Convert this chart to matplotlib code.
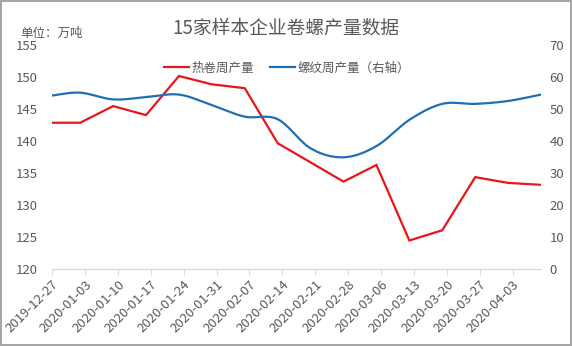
import numpy as np
import pandas as pd
import matplotlib
matplotlib.use("Agg")
import matplotlib.pyplot as plt
import matplotlib.dates as mdates
from matplotlib.lines import Line2D

plt.rcParams['font.family'] = ['Noto Sans CJK SC', 'DejaVu Sans']

# weekly data (first point is a Friday, the rest are Thursdays)
dates = pd.to_datetime(['2019-12-27', '2020-01-02', '2020-01-09', '2020-01-16',
                        '2020-01-23', '2020-01-30', '2020-02-06', '2020-02-13',
                        '2020-02-20', '2020-02-27', '2020-03-05', '2020-03-12',
                        '2020-03-19', '2020-03-26', '2020-04-02', '2020-04-09'])
hot_coil = [142.9, 142.9, 145.5, 144.1, 150.2, 148.9, 148.3, 139.7,
            136.7, 133.7, 136.3, 124.5, 126.1, 134.4, 133.5, 133.2]
rebar = [54.3, 55.2, 53.1, 53.8, 54.6, 51.3, 47.7, 46.9,
         37.8, 35.0, 38.5, 46.7, 51.7, 51.7, 52.6, 54.6]
tick_dates = pd.date_range('2019-12-27', '2020-04-03', freq='7D')

title = '15家样本企业卷螺产量数据'
unit_text = '单位：万吨'
label_hot = '热卷周产量'
label_rebar = '螺纹周产量（右轴）'

red = '#E8161C'
blue = '#1E6FB4'
grey_text = '#595959'


def smooth(x, y, n=30):
    # cubic bezier through the points, Catmull-Rom style control points
    x = np.asarray(x, float)
    y = np.asarray(y, float)
    px = np.concatenate([[x[0]], x, [x[-1]]])
    py = np.concatenate([[y[0]], y, [y[-1]]])
    xs, ys = [], []
    t = np.linspace(0, 1, n)
    for i in range(1, len(px) - 2):
        p0 = np.array([px[i], py[i]])
        p3 = np.array([px[i + 1], py[i + 1]])
        p1 = p0 + (np.array([px[i + 1], py[i + 1]]) - np.array([px[i - 1], py[i - 1]])) / 6
        p2 = p3 - (np.array([px[i + 2], py[i + 2]]) - np.array([px[i], py[i]])) / 6
        b = ((1 - t) ** 3)[:, None] * p0 + (3 * (1 - t) ** 2 * t)[:, None] * p1 \
            + (3 * (1 - t) * t ** 2)[:, None] * p2 + (t ** 3)[:, None] * p3
        xs.append(b[:, 0])
        ys.append(b[:, 1])
    return np.concatenate(xs), np.concatenate(ys)


fig = plt.figure(figsize=(5.72, 3.46), dpi=100)
fig.patch.set_edgecolor('#A6A6A6')
fig.patch.set_linewidth(1.5)
ax = fig.add_axes([52 / 572, 1 - 269.3 / 346, (541 - 52) / 572, 224 / 346])
ax2 = ax.twinx()

xnum = mdates.date2num(dates)
ax.plot(xnum, hot_coil, color=red, lw=1.6, solid_joinstyle='miter')
sx, sy = smooth(xnum, rebar)
ax2.plot(sx, sy, color=blue, lw=1.6)

ax.set_xlim(xnum[0], xnum[-1])
ax.set_ylim(120, 155)
ax.set_yticks(np.arange(120, 156, 5))
ax2.set_ylim(0, 70)
ax2.set_yticks(np.arange(0, 71, 10))

ax.set_xticks(mdates.date2num(tick_dates))
ax.set_xticklabels([d.strftime('%Y-%m-%d') for d in tick_dates],
                   rotation=45, ha='right', rotation_mode='anchor')

for a in (ax, ax2):
    for s in ('top', 'left', 'right'):
        a.spines[s].set_visible(False)
    a.spines['bottom'].set_color('#D9D9D9')
    a.tick_params(axis='y', length=0, labelsize=9.5, labelcolor=grey_text)
ax.tick_params(axis='y', pad=10)
ax2.tick_params(axis='y', pad=6)
ax.tick_params(axis='x', length=4, color='#D9D9D9', labelsize=9.5,
               labelcolor=grey_text, pad=2)

fig.text(0.5, 0.918, title, ha='center', va='center', fontsize=13.5,
         color=grey_text)
fig.text(20 / 572, 1 - 33 / 346, unit_text, ha='left', va='center',
         fontsize=9, color=grey_text)

handles = [Line2D([], [], color=red, lw=1.6), Line2D([], [], color=blue, lw=1.6)]
fig.legend(handles, [label_hot, label_rebar], loc='center',
           bbox_to_anchor=(287 / 572, 1 - 68 / 346), ncol=2, frameon=False,
           fontsize=9, labelcolor=grey_text, handlelength=2.0,
           handletextpad=0.2, columnspacing=1.3)

fig.savefig('out.png', dpi=100)
